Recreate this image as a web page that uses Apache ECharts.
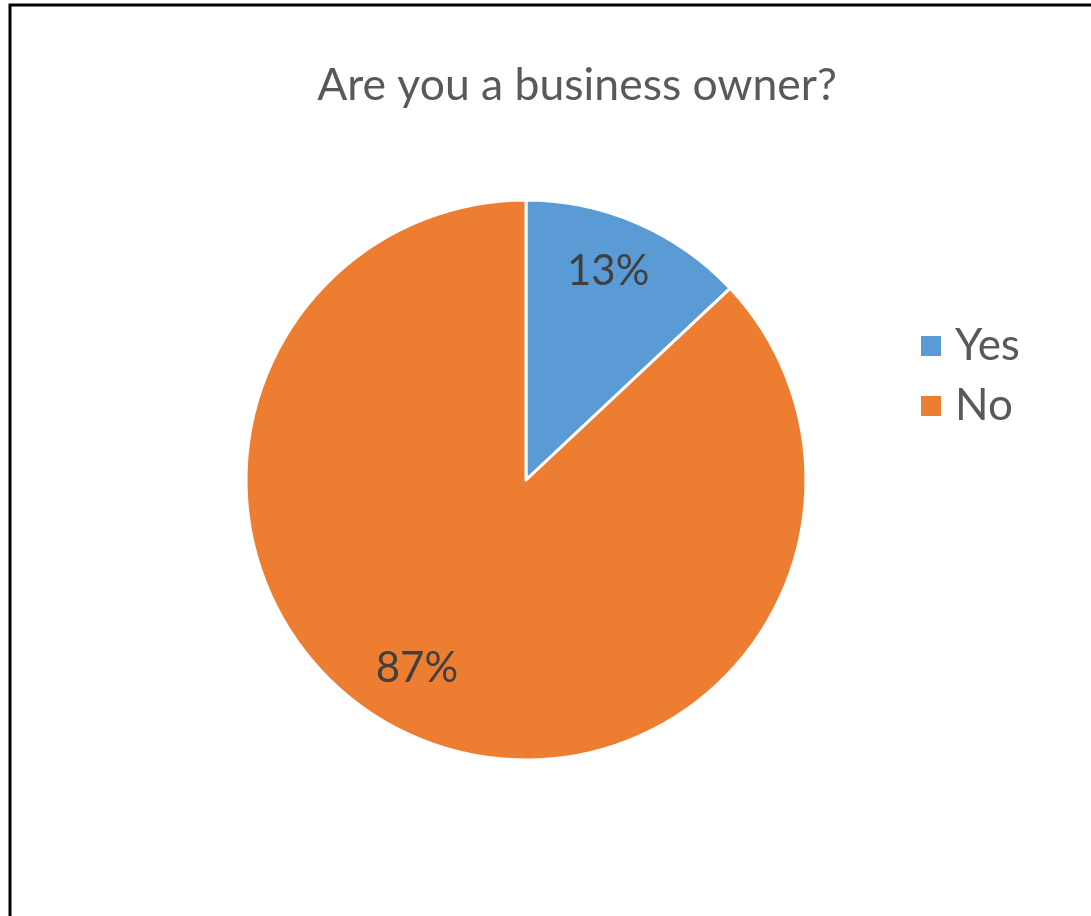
<!DOCTYPE html>
<html><head><meta charset="utf-8">
<script src="https://cdn.jsdelivr.net/npm/echarts@6/dist/echarts.min.js"></script>
<style>html,body{margin:0;padding:0;background:#fff}#c{width:1091px;height:916px}</style>
</head><body><div id="c"></div>
<script>
const title = 'Are you a business owner?';
const categories = ['Yes', 'No'];
const values = [13, 87];
const colors = ['#5B9BD5', '#ED7D31'];

const chart = echarts.init(document.getElementById('c'));
const FONT = 'Lato, "Open Sans", sans-serif';
const pieData = categories.map((n, i) => ({ name: n, value: values[i], itemStyle: { color: colors[i] } }));
chart.setOption({
  animation: false,
  backgroundColor: '#fff',
  title: {
    text: title, left: 572, top: 58, textAlign: 'center',
    textStyle: { fontFamily: FONT, fontSize: 44.5, fontWeight: 'normal', color: '#595959' }
  },
  legend: {
    orient: 'vertical', left: 919, top: 324, padding: 0, itemWidth: 22, itemHeight: 22, itemGap: 16,
    icon: 'rect', data: categories,
    textStyle: { fontFamily: FONT, fontSize: 44, color: '#595959', padding: [0, 0, 0, 8] }
  },
  graphic: [{
    type: 'rect', shape: { x: 10, y: 5, width: 1200, height: 1000 },
    style: { fill: 'none', stroke: '#000', lineWidth: 3 }, z: 100
  }],
  series: [{
    type: 'pie', center: [526, 480], radius: 280, startAngle: 90, clockwise: true,
    data: pieData, label: { show: false }, labelLine: { show: false },
    itemStyle: { borderColor: '#fff', borderWidth: 3 }, silent: true
  }, {
    type: 'pie', center: [526, 480], radius: [168, 280], startAngle: 90, clockwise: true,
    data: categories.map((n, i) => ({
      name: n, value: values[i], itemStyle: { color: 'rgba(0,0,0,0)' },
      label: i === 0 ? { offset: [-8, 0] } : { offset: [-19, -20] }
    })),
    silent: true, legendHoverLink: false,
    label: {
      show: true, position: 'inside', formatter: p => p.value + '%',
      fontFamily: FONT, fontSize: 42, color: '#404040'
    },
    labelLine: { show: false }
  }]
});
</script></body></html>
